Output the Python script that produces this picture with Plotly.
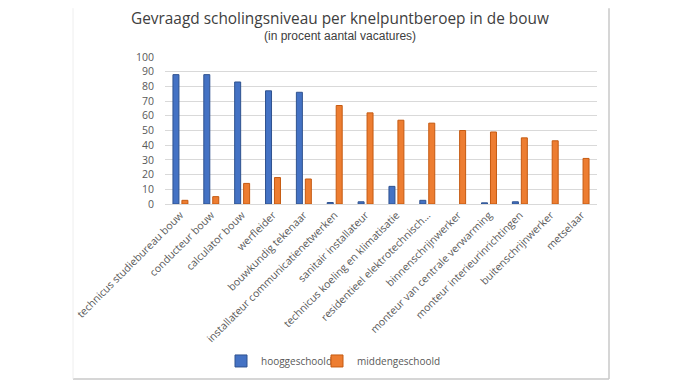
import plotly.graph_objects as go

categories = [
    "technicus studiebureau bouw", "conducteur bouw", "calculator bouw", "werfleider",
    "bouwkundig tekenaar", "installateur communicatienetwerken", "sanitair installateur",
    "technicus koeling en klimatisatie", "residentieel elektrotechnisch…",
    "binnenschrijnwerker", "monteur van centrale verwarming",
    "monteur interieurinrichtingen", "buitenschrijnwerker", "metselaar",
]
hooggeschoold = [88, 88, 83, 77, 76, 1, 1.5, 12, 2.5, 0, 0.8, 1.5, 0, 0]
middengeschoold = [2.5, 5, 14, 18, 17, 67, 62, 57, 55, 50, 49, 45, 43, 31]
y_ticks = list(range(0, 101, 10))

W, H = 684, 382
OFF = 8  # page body margin
L, R, T, B = 165 - OFF, 597 - OFF, 57 - OFF, 204.5 - OFF

fig = go.Figure()
fig.add_trace(go.Bar(x=categories, y=hooggeschoold, name="hooggeschoold", legend="legend",
                     marker=dict(color="#4472C4",
                                 line=dict(color="#2F528F",
                                           width=[1 if v > 0 else 0 for v in hooggeschoold]))))
fig.add_trace(go.Bar(x=categories, y=middengeschoold, name="middengeschoold", legend="legend2",
                     marker=dict(color="#ED7D31",
                                 line=dict(color="#C55A11",
                                           width=[1 if v > 0 else 0 for v in middengeschoold]))))

ph = B - T
pw = R - L
def py(y):
    return (B - (y - OFF)) / ph
def px(x):
    return ((x - OFF) - L) / pw

leg_common = dict(orientation="h", xanchor="left", y=py(362), yanchor="middle",
                  font=dict(size=10, color="#595959"), itemwidth=30,
                  bgcolor="rgba(0,0,0,0)")

fig.update_layout(
    width=W, height=H,
    margin=dict(l=L, r=W - R, t=T, b=H - B, pad=0, autoexpand=False),
    paper_bgcolor="white", plot_bgcolor="white",
    barmode="group", bargap=0.42, bargroupgap=0.33,
    font=dict(family="Open Sans", color="#595959", size=10),
    showlegend=True,
    legend=dict(x=px(221), **leg_common),
    legend2=dict(x=px(317), **leg_common),
    xaxis=dict(tickangle=-45, tickfont=dict(size=10.5, color="#595959"), showgrid=False,
               showline=True, linecolor="#D9D9D9", linewidth=1, ticks="", automargin=False),
    yaxis=dict(range=[0, 100], tickvals=y_ticks, showgrid=True, gridcolor="#D9D9D9",
               gridwidth=1, zeroline=False, ticks="", ticklabelstandoff=10, automargin=False,
               tickfont=dict(size=10.5, color="#595959")),
    annotations=[
        dict(text="Gevraagd scholingsniveau per knelpuntberoep in de bouw", xref="paper", yref="paper",
             x=px(340), y=py(18), xanchor="center", yanchor="middle", showarrow=False,
             font=dict(family="Open Sans", size=15.4, color="#404040")),
        dict(text="(in procent aantal vacatures)", xref="paper", yref="paper",
             x=px(340), y=py(36), xanchor="center", yanchor="middle", showarrow=False,
             font=dict(family="Liberation Sans", size=12, color="#404040")),
    ],
    shapes=[
        dict(type="line", xref="paper", yref="paper", x0=px(609), x1=px(609), y0=py(8), y1=py(380),
             line=dict(color="#C8C8C8", width=1.5)),
        dict(type="line", xref="paper", yref="paper", x0=px(73), x1=px(609), y0=py(380), y1=py(380),
             line=dict(color="#C8C8C8", width=1.5)),
        dict(type="line", xref="paper", yref="paper", x0=px(73), x1=px(73), y0=py(8), y1=py(380),
             line=dict(color="#EEEEEE", width=1)),
    ],
)

fig.write_html("out.html")
